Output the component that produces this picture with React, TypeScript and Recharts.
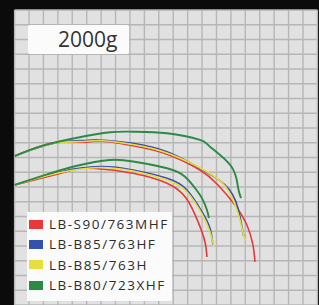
import { CartesianGrid, Line, LineChart, XAxis, YAxis } from "recharts";

// bend curves, x / y in grid squares from the lower left corner of the board
const loadLabel = "2000g";

const rodNames = ["LB-S90/763MHF", "LB-B85/763HF", "LB-B85/763H", "LB-B80/723XHF"];
const rodColors = ["#e8383a", "#3451ab", "#e4df3e", "#2b8a43"];

const s90Upper = [[0, 10.1], [2.66, 10.98], [4.74, 11.03], [5.92, 11.12], [8.21, 10.8], [10.57, 10.22], [12.85, 9.15], [14.11, 8.14], [15.28, 6.78], [16.11, 5.42], [16.53, 4.07], [16.67, 2.92]];
const b85hfUpper = [[0, 10.1], [2.66, 10.95], [4.74, 11.15], [5.92, 11.19], [8.21, 10.96], [10.57, 10.39], [12.65, 9.38], [14.59, 8.14], [15.49, 6.58], [15.83, 4.95], [15.9, 4.75]];
const b85hUpper = [[0, 10.1], [2.66, 10.95], [4.74, 11.08], [5.92, 11.15], [8.21, 10.88], [10.57, 10.31], [12.85, 9.31], [14.59, 8.07], [15.49, 6.24], [15.83, 4.95], [15.97, 4.41]];
const b80Upper = [[0, 10.1], [1.97, 10.8], [4.33, 11.34], [6.62, 11.71], [8.21, 11.75], [10.57, 11.64], [12.85, 11.19], [13.55, 10.73], [15.01, 9.42], [15.49, 8.0], [15.7, 7.25]];

const s90Lower = [[0, 8.14], [3.15, 8.92], [4.33, 9.22], [5.58, 9.25], [8.21, 8.93], [10.57, 8.25], [11.89, 7.25], [12.72, 5.65], [13.2, 4.29], [13.34, 3.25]];
const b85hfLower = [[0, 8.14], [3.15, 9.02], [5.92, 9.38], [8.21, 9.15], [10.57, 8.59], [11.95, 7.8], [12.99, 6.33], [13.55, 5.2], [13.76, 4.07]];
const b85hLower = [[0, 8.14], [3.15, 8.98], [5.92, 9.32], [8.21, 9.08], [10.57, 8.47], [11.95, 7.66], [12.99, 6.17], [13.55, 4.95], [13.83, 3.93]];
const b80Lower = [[0, 8.14], [1.97, 8.77], [4.33, 9.44], [6.62, 9.83], [8.21, 9.73], [10.57, 9.27], [11.82, 8.7], [12.51, 7.93], [13.0, 7.23], [13.34, 6.44], [13.48, 5.9]];

const xTicks = Array.from({ length: 22 }, (_, i) => i);
const yTicks = Array.from({ length: 21 }, (_, i) => i);

const curves = [
  { rod: 0, points: s90Upper },
  { rod: 1, points: b85hfUpper },
  { rod: 2, points: b85hUpper },
  { rod: 3, points: b80Upper },
  { rod: 0, points: s90Lower },
  { rod: 1, points: b85hfLower },
  { rod: 2, points: b85hLower },
  { rod: 3, points: b80Lower },
];

const toRows = (points: number[][]) => points.map(([x, y]) => ({ x, y }));

export default function App() {
  return (
    <div
      style={{
        position: "fixed",
        left: 0,
        top: 0,
        width: 319,
        height: 305,
        background: "#0b0b0b",
        fontFamily: "'Open Sans', sans-serif",
      }}
    >
      <LineChart width={319} height={305} margin={{ top: 10, right: 1.6, bottom: 0, left: 14.6 }}>
        <CartesianGrid fill="#e1e1e1" fillOpacity={1} stroke="#b6b6b6" strokeWidth={1.4} />
        <XAxis type="number" dataKey="x" domain={[0, 21]} ticks={xTicks} interval={0} hide allowDataOverflow />
        <YAxis type="number" dataKey="y" domain={[0, 20]} ticks={yTicks} interval={0} hide allowDataOverflow />
        {curves.map((c, i) => (
          <Line
            key={i}
            data={toRows(c.points)}
            dataKey="y"
            type="natural"
            stroke={rodColors[c.rod]}
            strokeWidth={c.rod === 3 ? 1.9 : 1.6}
            dot={false}
            activeDot={false}
            isAnimationActive={false}
          />
        ))}
      </LineChart>

      <div
        style={{
          position: "absolute",
          left: 28,
          top: 25,
          width: 101,
          height: 29,
          background: "#fbfbfb",
          borderRadius: 2,
        }}
      >
        <span
          style={{
            position: "absolute",
            left: 30,
            top: -1,
            fontSize: 21,
            lineHeight: "30px",
            color: "#333",
          }}
        >
          {loadLabel}
        </span>
      </div>

      <div
        style={{
          position: "absolute",
          left: 27,
          top: 212,
          width: 145,
          height: 89,
          background: "#fbfbfb",
        }}
      >
        {rodNames.map((name, i) => (
          <div
            key={name}
            style={{
              position: "absolute",
              left: 2,
              top: 2 + i * 20.4,
              height: 20,
              display: "flex",
              alignItems: "center",
            }}
          >
            <span style={{ width: 14, height: 9, background: rodColors[i], display: "inline-block" }} />
            <span
              style={{
                marginLeft: 6,
                fontSize: 13.5,
                letterSpacing: 1.5,
                color: "#2c2c2c",
                whiteSpace: "nowrap",
              }}
            >
              {name}
            </span>
          </div>
        ))}
      </div>
    </div>
  );
}
